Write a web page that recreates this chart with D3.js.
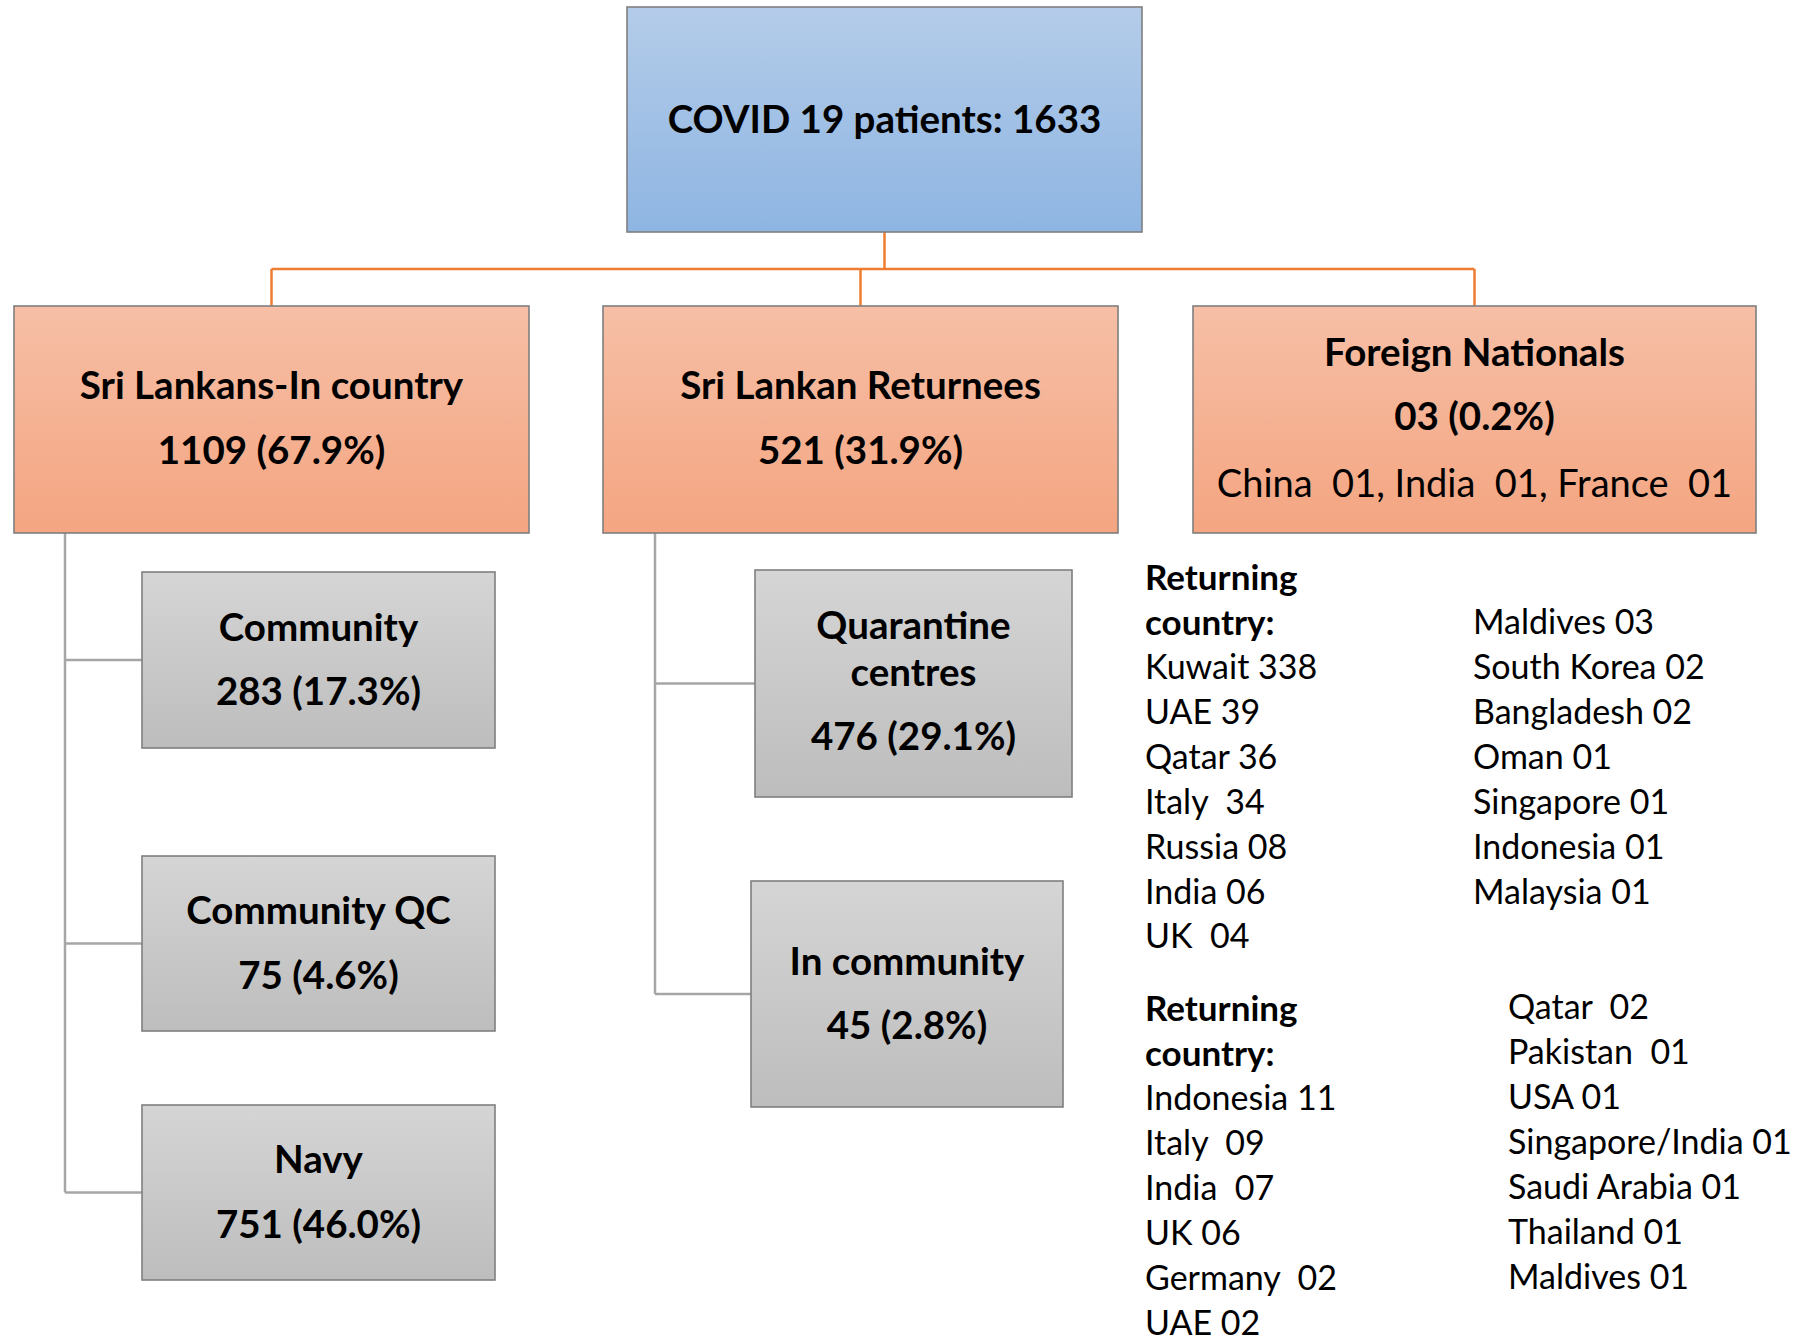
<!DOCTYPE html>
<html>
<head>
<meta charset="utf-8">
<script src="https://cdn.jsdelivr.net/npm/d3@7"></script>
<style>
  html, body { margin: 0; padding: 0; background: #fff; }
  svg { display: block; }
  text { font-family: Lato, "Open Sans", sans-serif; fill: #000; white-space: pre; }
</style>
</head>
<body>
<svg id="chart" width="1804" height="1335"></svg>
<script>
// ---------------- DATA ----------------
const rootLabel = "COVID 19 patients: 1633";

const groupNames = ["Sri Lankans-In country", "Sri Lankan Returnees", "Foreign Nationals"];
const groupCounts = ["1109", "521", "03"];
const groupPcts = ["67.9%", "31.9%", "0.2%"];

const foreignCountries = ["China", "India", "France"];
const foreignCounts = ["01", "01", "01"];

const inCountryNames = ["Community", "Community QC", "Navy"];
const inCountryCounts = ["283", "75", "751"];
const inCountryPcts = ["17.3%", "4.6%", "46.0%"];

const returneeNames = [["Quarantine", "centres"], ["In community"]];
const returneeCounts = ["476", "45"];
const returneePcts = ["29.1%", "2.8%"];

const listHeader = ["Returning", "country:"];

const qcCountriesA = ["Kuwait", "UAE", "Qatar", "Italy ", "Russia", "India", "UK "];
const qcCountsA = ["338", "39", "36", "34", "08", "06", "04"];
const qcCountriesB = ["Maldives", "South Korea", "Bangladesh", "Oman", "Singapore", "Indonesia", "Malaysia"];
const qcCountsB = ["03", "02", "02", "01", "01", "01", "01"];

const comCountriesA = ["Indonesia", "Italy ", "India ", "UK", "Germany ", "UAE"];
const comCountsA = ["11", "09", "07", "06", "02", "02"];
const comCountriesB = ["Qatar ", "Pakistan ", "USA", "Singapore/India", "Saudi Arabia", "Thailand", "Maldives"];
const comCountsB = ["02", "01", "01", "01", "01", "01", "01"];

// ---------------- DRAWING ----------------
const svg = d3.select("#chart");
const defs = svg.append("defs");

function grad(id, top, bottom) {
  const g = defs.append("linearGradient").attr("id", id)
    .attr("x1", 0).attr("y1", 0).attr("x2", 0).attr("y2", 1);
  g.append("stop").attr("offset", "0%").attr("stop-color", top);
  g.append("stop").attr("offset", "100%").attr("stop-color", bottom);
}
grad("gBlue", "#b4cce9", "#8eb5e2");
grad("gOrange", "#f6bfa6", "#f4a581");
grad("gGray", "#d5d5d5", "#bdbdbd");

const BOLD = 38.5;   // bold label size
const DETAIL = 38;   // regular line inside foreign box
const REG = 34;      // list text size
const HEAD = 35;     // list header size
const LINE = 44.9;   // list line height

// connectors (drawn first)
const orange = svg.append("g").attr("fill", "none").attr("stroke", "#ed7d31").attr("stroke-width", 2.5);
const rootBox = {x: 627, y: 7, w: 515, h: 225};
const groupBoxes = [
  {x: 14, y: 306, w: 515, h: 227},
  {x: 603, y: 306, w: 515, h: 227},
  {x: 1193, y: 306, w: 563, h: 227}
];
const rootCx = rootBox.x + rootBox.w / 2;
const busY = 269;
orange.append("path").attr("d", `M${rootCx},${rootBox.y + rootBox.h}V${busY}`);
orange.append("path").attr("d",
  `M${groupBoxes[0].x + groupBoxes[0].w / 2},${busY}H${groupBoxes[2].x + groupBoxes[2].w / 2}`);
groupBoxes.forEach(b => {
  orange.append("path").attr("d", `M${b.x + b.w / 2},${busY}V${b.y}`);
});

const inCountryBoxes = [
  {x: 142, y: 572, w: 353, h: 176},
  {x: 142, y: 856, w: 353, h: 175},
  {x: 142, y: 1105, w: 353, h: 175}
];
const returneeBoxes = [
  {x: 755, y: 570, w: 317, h: 227},
  {x: 751, y: 881, w: 312, h: 226}
];

const gray = svg.append("g").attr("fill", "none").attr("stroke", "#a6a6a6").attr("stroke-width", 2.5);
function trunk(parent, children, tx) {
  const ys = children.map(c => c.y + c.h / 2);
  gray.append("path").attr("d", `M${tx},${parent.y + parent.h}V${d3.max(ys)}`);
  children.forEach((c, i) => gray.append("path").attr("d", `M${tx},${ys[i]}H${c.x}`));
}
trunk(groupBoxes[0], inCountryBoxes, 65);
trunk(groupBoxes[1], returneeBoxes, 655);

// boxes
function box(b, fill) {
  svg.append("rect").attr("x", b.x).attr("y", b.y).attr("width", b.w).attr("height", b.h)
    .attr("fill", `url(#${fill})`).attr("stroke", "#7f7f7f").attr("stroke-width", 1.6);
}
function label(x, yCenter, str, bold, size) {
  svg.append("text").attr("x", x).attr("y", yCenter).attr("text-anchor", "middle")
    .attr("dy", "0.36em").attr("font-weight", bold ? 700 : 400)
    .attr("font-size", size).text(str);
}

box(rootBox, "gBlue");
label(rootCx, 119, rootLabel, true, BOLD);

groupBoxes.forEach((b, i) => {
  box(b, "gOrange");
  const cx = b.x + b.w / 2, cy = b.y + b.h / 2;
  if (i < 2) {
    label(cx, cy - 34, groupNames[i], true, BOLD);
    label(cx, cy + 31, `${groupCounts[i]} (${groupPcts[i]})`, true, BOLD);
  } else {
    label(cx, cy - 67, groupNames[i], true, BOLD);
    label(cx, cy - 3, `${groupCounts[i]} (${groupPcts[i]})`, true, BOLD);
    const detail = foreignCountries.map((c, k) => `${c}  ${foreignCounts[k]}`).join(", ");
    label(cx, cy + 64, detail, false, DETAIL);
  }
});

inCountryBoxes.forEach((b, i) => {
  box(b, "gGray");
  const cx = b.x + b.w / 2, cy = b.y + b.h / 2;
  label(cx, cy - 33, inCountryNames[i], true, BOLD);
  label(cx, cy + 31.5, `${inCountryCounts[i]} (${inCountryPcts[i]})`, true, BOLD);
});

returneeBoxes.forEach((b, i) => {
  box(b, "gGray");
  const cx = b.x + b.w / 2, cy = b.y + b.h / 2;
  const names = returneeNames[i];
  if (names.length === 2) {
    label(cx, cy - 58, names[0], true, BOLD);
    label(cx, cy - 11, names[1], true, BOLD);
    label(cx, cy + 53, `${returneeCounts[i]} (${returneePcts[i]})`, true, BOLD);
  } else {
    label(cx, cy - 33, names[0], true, BOLD);
    label(cx, cy + 31, `${returneeCounts[i]} (${returneePcts[i]})`, true, BOLD);
  }
});

// country lists
function list(x, y0, header, names, counts, offset) {
  const g = svg.append("g");
  header.forEach((h, k) => {
    g.append("text").attr("x", x).attr("y", y0 + k * LINE).attr("dy", "0.36em")
      .attr("font-weight", 700).attr("font-size", HEAD).text(h);
  });
  names.forEach((n, k) => {
    g.append("text").attr("x", x).attr("y", y0 + (offset + k) * LINE).attr("dy", "0.36em")
      .attr("font-weight", 400).attr("font-size", REG).text(`${n} ${counts[k]}`);
  });
}
list(1145, 577, listHeader, qcCountriesA, qcCountsA, 2);
list(1473, 577, [], qcCountriesB, qcCountsB, 1);
list(1145, 1008, listHeader, comCountriesA, comCountsA, 2);
list(1508, 1007, [], comCountriesB, comCountsB, 0);
</script>
</body>
</html>
